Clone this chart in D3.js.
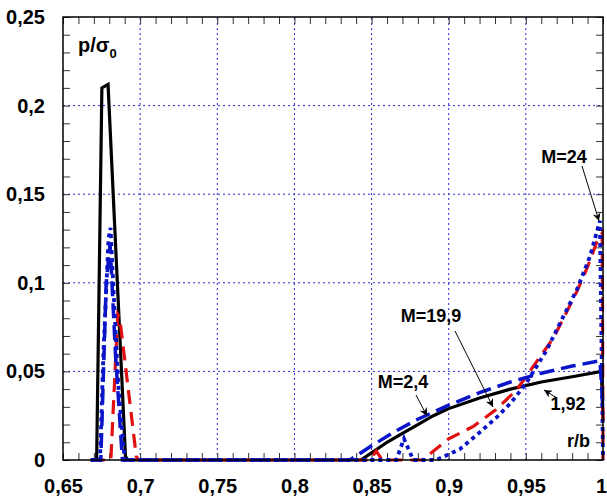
<!DOCTYPE html>
<html>
<head>
<meta charset="utf-8">
<script src="https://cdnjs.cloudflare.com/ajax/libs/d3/7.8.5/d3.min.js"></script>
<style>
  body { margin: 0; background: #fff; }
  svg text { font-family: Arial, "Liberation Sans", sans-serif; font-weight: bold; }
</style>
</head>
<body>
<script>
"use strict";

// Axis ticks
var xMajor = [0.65, 0.7, 0.75, 0.8, 0.85, 0.9, 0.95, 1];
var yMajor = [0, 0.05, 0.1, 0.15, 0.2, 0.25];
var xGrid = [0.7, 0.75, 0.8, 0.85, 0.9, 0.95];
var yGrid = [0.05, 0.1, 0.15, 0.2];

// Series, [r/b, p/sigma0]
// M=1,92 - black solid
var m192 = [[0.668, 0], [0.6718, 0], [0.6752, 0.210], [0.6792, 0.212], [0.6905, 0.002], [0.692, 0],
  [0.843, 0], [0.85, 0.004], [0.86, 0.010], [0.87, 0.015], [0.88, 0.020], [0.89, 0.025], [0.90, 0.029],
  [0.92, 0.035], [0.94, 0.040], [0.96, 0.044], [0.98, 0.047], [0.999, 0.050], [1.0, 0.022]];
// M=19,9 - red dashed
var m199 = [[0.668, 0], [0.681, 0], [0.6855, 0.082], [0.6868, 0.080], [0.6975, 0.002], [0.699, 0],
  [0.849, 0], [0.853, 0.005], [0.857, 0], [0.883, 0], [0.90, 0.012], [0.916, 0.019], [0.93, 0.028],
  [0.944, 0.0395], [0.957, 0.0555], [0.968, 0.069], [0.975, 0.081], [0.983, 0.095], [0.99, 0.109],
  [0.996, 0.123], [0.9995, 0.128], [1.0, 0]];
// M=2,4 - blue dashed
var m24a = [[0.668, 0], [0.6745, 0], [0.678, 0.10], [0.6805, 0.122], [0.684, 0.06], [0.6885, 0],
  [0.836, 0], [0.85, 0.008], [0.865, 0.016], [0.88, 0.023], [0.90, 0.031], [0.92, 0.038], [0.94, 0.044],
  [0.96, 0.049], [0.98, 0.053], [0.998, 0.056], [1.0, 0.03]];
// M=24 - blue dotted
var m24 = [[0.668, 0], [0.674, 0], [0.6762, 0.06], [0.6795, 0.125], [0.6808, 0.131], [0.6825, 0.10],
  [0.686, 0.04], [0.690, 0], [0.866, 0], [0.871, 0.012], [0.877, 0], [0.892, 0], [0.907, 0.006],
  [0.918, 0.014], [0.931, 0.024], [0.94, 0.032], [0.95, 0.043], [0.9635, 0.062], [0.972, 0.077],
  [0.983, 0.096], [0.9916, 0.115], [0.998, 0.135], [1.0, 0]];

var width = 607, height = 497;
var x = d3.scaleLinear().domain([0.65, 1]).range([63, 603]);
var y = d3.scaleLinear().domain([0, 0.25]).range([460, 17]);
var fmt = function(d) { return String(+d.toFixed(2)).replace(".", ","); };

var svg = d3.select("body").append("svg")
  .attr("width", width)
  .attr("height", height);

var defs = svg.append("defs");
defs.append("marker")
  .attr("id", "arrow")
  .attr("viewBox", "0 0 10 10")
  .attr("refX", 10).attr("refY", 5)
  .attr("markerWidth", 11).attr("markerHeight", 8)
  .attr("markerUnits", "userSpaceOnUse")
  .attr("orient", "auto")
  .append("path").attr("d", "M0,0L10,5L0,10L3,5Z").attr("fill", "#000");

// Grid
svg.append("g").selectAll("line").data(xGrid).enter().append("line")
  .attr("x1", x).attr("x2", x).attr("y1", y(0)).attr("y2", y(0.25))
  .attr("stroke", "#2a2ad0").attr("stroke-width", 1).attr("stroke-dasharray", "2,3");
svg.append("g").selectAll("line").data(yGrid).enter().append("line")
  .attr("y1", y).attr("y2", y).attr("x1", x(0.65)).attr("x2", x(1))
  .attr("stroke", "#2a2ad0").attr("stroke-width", 1).attr("stroke-dasharray", "2,3");

// Minor ticks on all four sides, pointing inwards
var xMinor = d3.range(0, 36).map(function(i) { return 0.65 + i * 0.01; });
var yMinor = d3.range(0, 26).map(function(i) { return i * 0.01; });
function ticks(g) {
  g.select(".domain").remove();
  g.selectAll(".tick line").attr("stroke", "#333").attr("stroke-width", 1);
}
svg.append("g").attr("transform", "translate(0," + y(0) + ")")
  .call(d3.axisBottom(x).tickValues(xMinor).tickSize(-7).tickFormat("")).call(ticks);
svg.append("g").attr("transform", "translate(0," + y(0.25) + ")")
  .call(d3.axisTop(x).tickValues(xMinor).tickSize(-7).tickFormat("")).call(ticks);
svg.append("g").attr("transform", "translate(" + x(0.65) + ",0)")
  .call(d3.axisLeft(y).tickValues(yMinor).tickSize(-7).tickFormat("")).call(ticks);
svg.append("g").attr("transform", "translate(" + x(1) + ",0)")
  .call(d3.axisRight(y).tickValues(yMinor).tickSize(-7).tickFormat("")).call(ticks);

// Tick labels
var xLab = svg.append("g").attr("transform", "translate(0," + y(0) + ")")
  .call(d3.axisBottom(x).tickValues(xMajor).tickSize(0).tickPadding(19).tickFormat(fmt));
xLab.select(".domain").remove();
xLab.selectAll("text").attr("font-size", 20).attr("fill", "#000")
  .style("font-family", "Arial, 'Liberation Sans', sans-serif").style("font-weight", "bold");
// keep the last label inside the window
xLab.selectAll("text").filter(function(d) { return d === 1; }).attr("dx", -2);
var yLab = svg.append("g").attr("transform", "translate(" + x(0.65) + ",0)")
  .call(d3.axisLeft(y).tickValues(yMajor).tickSize(0).tickPadding(18).tickFormat(fmt));
yLab.select(".domain").remove();
yLab.selectAll("text").attr("font-size", 20).attr("fill", "#000")
  .style("font-family", "Arial, 'Liberation Sans', sans-serif").style("font-weight", "bold");

// Curves
var line = d3.line()
  .x(function(d) { return x(d[0]); })
  .y(function(d) { return y(d[1]); });
var series = [
  { data: m192, color: "#000", w: 3.2, dash: null },
  { data: m199, color: "#e01010", w: 3.2, dash: "14,8" },
  { data: m24a, color: "#0a14c8", w: 3.5, dash: "15,7" },
  { data: m24, color: "#0a14c8", w: 3.8, dash: "4,4" }
];
series.forEach(function(s) {
  svg.append("path")
    .datum(s.data)
    .attr("d", line)
    .attr("fill", "none")
    .attr("stroke", s.color)
    .attr("stroke-width", s.w)
    .attr("stroke-dasharray", s.dash)
    .attr("stroke-linejoin", "miter");
});

// Frame
svg.append("rect")
  .attr("x", x(0.65)).attr("y", y(0.25))
  .attr("width", x(1) - x(0.65)).attr("height", y(0) - y(0.25))
  .attr("fill", "none").attr("stroke", "#000").attr("stroke-width", 1.5);

// Axis titles
var ptitle = svg.append("text").attr("x", 78).attr("y", 52).attr("font-size", 20);
ptitle.append("tspan").text("p/σ");
ptitle.append("tspan").attr("font-size", 13).attr("dy", 6).text("0");
svg.append("text").attr("x", 590).attr("y", 447).attr("text-anchor", "end")
  .attr("font-size", 18).text("r/b");

// Annotations
var notes = [
  { text: "M=24", tx: 564, ty: 163, from: [582, 166], to: [599, 221] },
  { text: "M=19,9", tx: 431, ty: 322, from: [455, 331], to: [493, 407] },
  { text: "M=2,4", tx: 403, ty: 388, from: [416, 395], to: [427, 416] },
  { text: "1,92", tx: 568, ty: 410, from: [557, 398], to: [544, 390] }
];
notes.forEach(function(n) {
  svg.append("text").attr("x", n.tx).attr("y", n.ty).attr("text-anchor", "middle")
    .attr("font-size", 18).text(n.text);
  svg.append("line")
    .attr("x1", n.from[0]).attr("y1", n.from[1]).attr("x2", n.to[0]).attr("y2", n.to[1])
    .attr("stroke", "#000").attr("stroke-width", 1)
    .attr("marker-end", "url(#arrow)");
});
</script>
</body>
</html>
